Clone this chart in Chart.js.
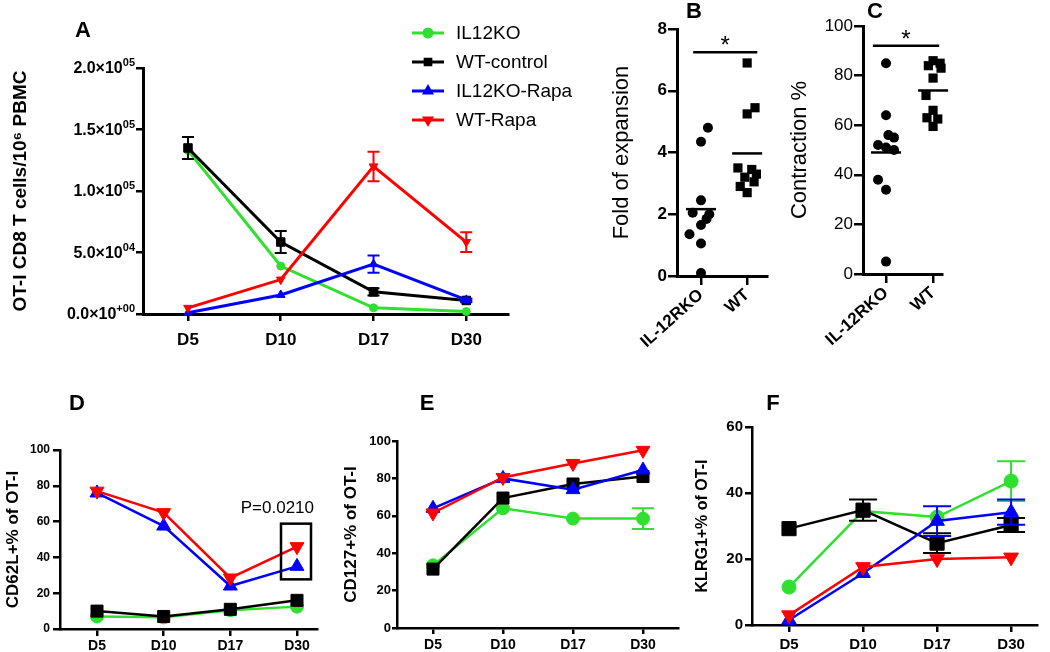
<!DOCTYPE html>
<html>
<head>
<meta charset="utf-8">
<script src="https://cdn.jsdelivr.net/npm/chart.js@4.4.1/dist/chart.umd.min.js"></script>
<style>
  body { margin: 0; background: #fff; }
  #wrap { position: relative; width: 1050px; height: 652px; overflow: hidden; background: #fff; }
  canvas { position: absolute; }
  .lbl { position: absolute; font: bold 22px "Liberation Sans", Arial, sans-serif; transform: translate(-50%, -50%); }
</style>
</head>
<body>
<div id="wrap">
  <canvas id="cA"></canvas>
  <canvas id="cB"></canvas>
  <canvas id="cC"></canvas>
  <canvas id="cD"></canvas>
  <canvas id="cE"></canvas>
  <canvas id="cF"></canvas>
  <div class="lbl" style="left:83px;top:30px">A</div>
  <div class="lbl" style="left:694px;top:11px">B</div>
  <div class="lbl" style="left:875px;top:11px">C</div>
  <div class="lbl" style="left:77px;top:403px">D</div>
  <div class="lbl" style="left:427px;top:403px">E</div>
  <div class="lbl" style="left:773px;top:403px">F</div>
</div>
<script>
var days = ["D5", "D10", "D17", "D30"];
var seriesNames = ["IL12KO", "WT-control", "IL12KO-Rapa", "WT-Rapa"];
var colors = ["#2fe02f", "#000000", "#0000ff", "#ff0000"];

// panel A: OT-I CD8 T cells per 10^6 PBMC
var aIL12KO = [133000, 39000, 5000, 2000];
var aWT = [135000, 58500, 18000, 11000];
var aKORapa = [1000, 15500, 40500, 11500];
var aWTRapa = [5000, 28000, 120000, 58500];
var aErrIL12KO = [0, 0, 0, 0];
var aErrWT = [9000, 9000, 3000, 1500];
var aErrKORapa = [0, 0, 7000, 1000];
var aErrWTRapa = [0, 0, 12000, 8000];
var aTicks = [0, 50000, 100000, 150000, 200000];
var aTickBase = ["0.0×10", "5.0×10", "1.0×10", "1.5×10", "2.0×10"];
var aTickExp = ["+00", "04", "05", "05", "05"];

// panels B, C: individual mice
var groups = ["IL-12RKO", "WT"];
var bKO = [4.8, 4.35, 2.45, 2.05, 2.0, 1.85, 1.65, 1.35, 1.05, 0.1];
var bWT = [6.9, 5.45, 5.25, 3.5, 3.45, 3.3, 3.2, 3.05, 2.9, 2.7];
var cKO = [85, 64, 56, 55, 52, 51, 50, 38, 34, 5];
var cWT = [86, 85, 84, 83, 79, 72, 66, 63, 62.5, 59.5];
var bTicks = [0, 2, 4, 6, 8];
var cTicks = [0, 20, 40, 60, 80, 100];

// horizontal scatter of the dots inside a column
var bJitKO = [0.15, 0, 0, -0.18, 0.18, 0.12, 0, -0.25, 0, 0];
var bJitWT = [0, 0.17, 0, -0.2, 0.1, 0.2, -0.05, 0.15, -0.15, 0];
var cJitKO = [0, 0, 0.05, 0.17, -0.17, 0, 0.17, -0.17, 0, 0];
var cJitWT = [0, 0.15, -0.1, 0.17, 0, -0.15, 0, -0.13, 0.1, 0];

// panel D: CD62L+ %
var dIL12KO = [7, 6.5, 10.5, 12.5];
var dWT = [10, 7, 11, 16];
var dKORapa = [76, 57.5, 24, 35];
var dWTRapa = [77, 65, 28.5, 46];

// panel E: CD127+ %
var eIL12KO = [33.5, 64, 58.5, 58.5];
var eWT = [31.5, 69.5, 77, 81];
var eKORapa = [64, 80, 74, 84.5];
var eWTRapa = [61.5, 80.5, 88, 95];
var eErrIL12KO = [0, 0, 0, 5.5];

// panel F: KLRG1+ %
var fIL12KO = [11.5, 34.5, 32.7, 43.6];
var fWT = [29.2, 34.8, 24.8, 30.3];
var fKORapa = [1.5, 15.7, 31.5, 34.2];
var fWTRapa = [3, 17.6, 20, 20.5];
var fErrIL12KO = [0, 0, 0, 6];
var fErrWT = [0, 3.2, 3, 2.1];
var fErrKORapa = [0, 0, 4.5, 3.8];
var fErrWTRapa = [0, 0, 0, 0];

var FONT = '"Liberation Sans", Arial, "DejaVu Sans", sans-serif';
var marks = [["circle", 0], ["rect", 0], ["triangle", 0], ["triangle", 180]];

function drawMark(ctx, k, r, x, y) {
  ctx.fillStyle = colors[k];
  ctx.strokeStyle = colors[k];
  Chart.helpers.drawPoint(ctx, { pointStyle: marks[k][0], rotation: marks[k][1], radius: r, borderWidth: 1 }, x, y);
}

var errorBars = {
  id: "errorBars",
  afterDatasetDraw: function (chart, args, o) {
    var ds = chart.data.datasets[args.index];
    if (!ds.errors) return;
    var ctx = chart.ctx, ys = chart.scales.y;
    ctx.save();
    ctx.strokeStyle = ds.borderColor;
    ctx.lineWidth = o.width;
    args.meta.data.forEach(function (pt, i) {
      var e = ds.errors[i];
      if (!e) return;
      var v = ds.data[i].y;
      var t = ys.getPixelForValue(v + e), b = ys.getPixelForValue(v - e);
      ctx.beginPath();
      ctx.moveTo(pt.x, t); ctx.lineTo(pt.x, b);
      ctx.moveTo(pt.x - o.cap, t); ctx.lineTo(pt.x + o.cap, t);
      ctx.moveTo(pt.x - o.cap, b); ctx.lineTo(pt.x + o.cap, b);
      ctx.stroke();
    });
    ctx.restore();
  }
};

// y tick labels of panel A written as mantissa x 10 with a raised exponent
var sciTicks = {
  id: "sciTicks",
  afterDraw: function (chart, args, o) {
    if (!o.base) return;
    var ctx = chart.ctx, ys = chart.scales.y, right = chart.chartArea.left - 8;
    ctx.save();
    ctx.fillStyle = "#000";
    ctx.textBaseline = "alphabetic";
    ctx.textAlign = "left";
    o.values.forEach(function (v, i) {
      var y = ys.getPixelForValue(v) + 5;
      ctx.font = "bold 11px " + FONT;
      var we = ctx.measureText(o.exp[i]).width;
      ctx.font = "bold 16px " + FONT;
      var wb = ctx.measureText(o.base[i]).width;
      ctx.fillText(o.base[i], right - we - wb, y);
      ctx.font = "bold 11px " + FONT;
      ctx.fillText(o.exp[i], right - we, y - 7);
    });
    ctx.restore();
  }
};

var lineLegend = {
  id: "lineLegend",
  afterDraw: function (chart, args, o) {
    if (!o.show) return;
    var ctx = chart.ctx;
    ctx.save();
    seriesNames.forEach(function (name, k) {
      var y = o.y0 + k * o.dy;
      ctx.strokeStyle = colors[k];
      ctx.lineWidth = 3;
      ctx.beginPath(); ctx.moveTo(o.x0, y); ctx.lineTo(o.x1, y); ctx.stroke();
      drawMark(ctx, k, 4, (o.x0 + o.x1) / 2, y);
      ctx.fillStyle = "#000";
      ctx.font = "19px " + FONT;
      ctx.textBaseline = "middle";
      ctx.textAlign = "left";
      ctx.fillText(name, o.tx, y + 1);
    });
    ctx.restore();
  }
};

var pBox = {
  id: "pBox",
  afterDatasetsDraw: function (chart, args, o) {
    if (!o.text) return;
    var red = chart.getDatasetMeta(3).data[3], blue = chart.getDatasetMeta(2).data[3];
    var l = red.x - 16, r = red.x + 14, t = red.y - 23, b = blue.y + 13;
    var ctx = chart.ctx;
    ctx.save();
    ctx.strokeStyle = "#000";
    ctx.lineWidth = 2.5;
    ctx.strokeRect(l, t, r - l, b - t);
    ctx.fillStyle = "#000";
    ctx.font = "17px " + FONT;
    ctx.textAlign = "right";
    ctx.textBaseline = "alphabetic";
    ctx.fillText(o.text, r + 3, t - 11);
    ctx.restore();
  }
};

var dotPlot = {
  id: "dotPlot",
  afterDatasetsDraw: function (chart, args, o) {
    if (!o.sig) return;
    var ctx = chart.ctx, xs = chart.scales.x, ys = chart.scales.y;
    ctx.save();
    ctx.strokeStyle = "#000";
    ctx.lineWidth = 2.5;
    chart.data.datasets.forEach(function (ds, k) {
      var vals = ds.data.map(function (p) { return p.y; });
      var mean = vals.reduce(function (s, v) { return s + v; }, 0) / vals.length;
      var px = xs.getPixelForValue(k + 1), py = ys.getPixelForValue(mean);
      ctx.beginPath(); ctx.moveTo(px - 15, py); ctx.lineTo(px + 15, py); ctx.stroke();
    });
    var yb = ys.getPixelForValue(o.sig[2]);
    var x1 = xs.getPixelForValue(o.sig[0]), x2 = xs.getPixelForValue(o.sig[1]);
    ctx.beginPath(); ctx.moveTo(x1, yb); ctx.lineTo(x2, yb); ctx.stroke();
    ctx.fillStyle = "#000";
    ctx.font = "24px " + FONT;
    ctx.textAlign = "center";
    ctx.textBaseline = "alphabetic";
    ctx.fillText("*", (x1 + x2) / 2, yb + 1);
    ctx.restore();
  }
};

function place(id, box) {
  var cv = document.getElementById(id);
  cv.width = box[2]; cv.height = box[3];
  cv.style.left = box[0] + "px"; cv.style.top = box[1] + "px";
  return cv;
}

function axisStyle(c, isX) {
  return {
    grid: { drawOnChartArea: false, color: "#000", lineWidth: c.tickW, tickLength: isX ? c.xTickLen : c.yTickLen },
    border: { color: "#000", width: c.axisW }
  };
}

function lineChart(c) {
  var cv = place(c.id, c.box), b = c.box, a = c.area;
  var datasets = c.series.map(function (vals, k) {
    return {
      label: seriesNames[k],
      data: vals.map(function (v, i) { return { x: i + 1, y: v }; }),
      errors: c.errors ? c.errors[k] : null,
      borderColor: colors[k],
      backgroundColor: colors[k],
      borderWidth: c.lineW,
      pointStyle: marks[k][0],
      pointRotation: marks[k][1],
      pointRadius: c.radius[k],
      pointBorderWidth: 1,
      order: 4 - k,
      clip: false
    };
  });
  var xs = axisStyle(c, true), ys = axisStyle(c, false);
  return new Chart(cv, {
    type: "line",
    data: { datasets: datasets },
    plugins: [errorBars, lineLegend, pBox, sciTicks],
    options: {
      responsive: false, animation: false, devicePixelRatio: 1,
      layout: { padding: { left: 0, top: a[1] - b[1], right: b[0] + b[2] - a[2], bottom: 0 } },
      plugins: {
        legend: { display: false }, tooltip: { enabled: false },
        errorBars: { cap: c.cap, width: 2 },
        lineLegend: c.legend || {},
        pBox: c.pBox || {},
        sciTicks: c.sci || {}
      },
      scales: {
        x: {
          type: "linear", min: c.xRange[0], max: c.xRange[1],
          afterBuildTicks: function (s) { s.ticks = days.map(function (d, i) { return { value: i + 1 }; }); },
          afterFit: function (s) { s.height = b[1] + b[3] - a[3]; },
          ticks: {
            callback: function (v) { return days[v - 1]; },
            autoSkip: false, maxRotation: 0, color: "#000", padding: c.xPad,
            font: { family: FONT, size: c.xFont, weight: "bold" }
          },
          grid: xs.grid, border: xs.border
        },
        y: {
          min: 0, max: c.yTicks[c.yTicks.length - 1],
          afterBuildTicks: function (s) { s.ticks = c.yTicks.map(function (v) { return { value: v }; }); },
          afterFit: function (s) { s.width = a[0] - b[0]; },
          ticks: {
            display: !c.sci,
            color: "#000", padding: c.yPad,
            font: { family: FONT, size: c.yFont, weight: "bold" }
          },
          title: {
            display: true, text: c.title, color: "#000",
            font: { family: FONT, size: c.titleFont, weight: "bold" },
            padding: { top: c.titlePad, bottom: 0 }
          },
          grid: ys.grid, border: ys.border
        }
      }
    }
  });
}

function dotChart(c) {
  var cv = place(c.id, c.box), b = c.box, a = c.area;
  var styles = [["circle", c.radius[0]], ["rect", c.radius[1]]];
  var datasets = c.series.map(function (vals, k) {
    return {
      label: groups[k],
      data: vals.map(function (v, i) { return { x: k + 1 + c.jitter[k][i], y: v }; }),
      backgroundColor: "#000", borderColor: "#000",
      pointStyle: styles[k][0], pointRadius: styles[k][1], pointBorderWidth: 0,
      clip: false
    };
  });
  var xs = axisStyle(c, true), ys = axisStyle(c, false);
  return new Chart(cv, {
    type: "scatter",
    data: { datasets: datasets },
    plugins: [dotPlot],
    options: {
      responsive: false, animation: false, devicePixelRatio: 1,
      layout: { padding: { left: 0, top: a[1] - b[1], right: b[0] + b[2] - a[2], bottom: 0 } },
      plugins: { legend: { display: false }, tooltip: { enabled: false }, dotPlot: { sig: c.sig } },
      scales: {
        x: {
          type: "linear", min: c.xRange[0], max: c.xRange[1],
          afterBuildTicks: function (s) { s.ticks = groups.map(function (g, i) { return { value: i + 1 }; }); },
          afterFit: function (s) { s.height = b[1] + b[3] - a[3]; },
          ticks: {
            callback: function (v) { return groups[v - 1]; },
            autoSkip: false, minRotation: 42, maxRotation: 42, color: "#000", padding: 0,
            font: { family: FONT, size: 17, weight: "bold" }
          },
          grid: xs.grid, border: xs.border
        },
        y: {
          min: 0, max: c.yTicks[c.yTicks.length - 1],
          afterBuildTicks: function (s) { s.ticks = c.yTicks.map(function (v) { return { value: v }; }); },
          afterFit: function (s) { s.width = a[0] - b[0]; },
          ticks: {
            color: "#000", padding: c.yPad,
            font: { family: FONT, size: c.yFont, weight: c.yWeight }
          },
          title: {
            display: true, text: c.title, color: "#000",
            font: { family: FONT, size: 22 },
            padding: { top: c.titlePad, bottom: 0 }
          },
          grid: ys.grid, border: ys.border
        }
      }
    }
  });
}

lineChart({
  id: "cA", box: [0, 0, 600, 365], area: [143, 68, 508, 314],
  series: [aIL12KO, aWT, aKORapa, aWTRapa],
  errors: [aErrIL12KO, aErrWT, aErrKORapa, aErrWTRapa],
  yTicks: aTicks, sci: { values: aTicks, base: aTickBase, exp: aTickExp },
  xRange: [0.515, 4.45], radius: [4, 6, 5, 5], lineW: 3, cap: 6,
  axisW: 3, tickW: 2.5, xTickLen: 7, yTickLen: 7, xPad: 9, yPad: 1,
  xFont: 17, yFont: 14,
  title: "OT-I CD8 T cells/10⁶ PBMC", titleFont: 19, titlePad: 9,
  legend: { show: true, x0: 412, x1: 444, tx: 456, y0: 33, dy: 29 }
});

dotChart({
  id: "cB", box: [595, 0, 180, 360], area: [677, 29, 767, 276],
  series: [bKO, bWT], jitter: [bJitKO, bJitWT], radius: [5, 6.5],
  yTicks: bTicks, xRange: [0.48, 2.43],
  axisW: 3, tickW: 2.5, xTickLen: 9, yTickLen: 9, yPad: 1,
  yFont: 17, yWeight: "bold",
  title: "Fold of expansion", titlePad: 14,
  sig: [0.83, 2.22, 7.25]
});

dotChart({
  id: "cC", box: [775, 0, 185, 360], area: [863, 26, 942, 274],
  series: [cKO, cWT], jitter: [cJitKO, cJitWT], radius: [5, 6.5],
  yTicks: cTicks, xRange: [0.51, 2.19],
  axisW: 3, tickW: 2.5, xTickLen: 9, yTickLen: 9, yPad: 1,
  yFont: 17, yWeight: "normal",
  title: "Contraction %", titlePad: 12,
  sig: [0.72, 2.13, 92]
});

lineChart({
  id: "cD", box: [0, 380, 340, 272], area: [60, 450, 317, 629],
  series: [dIL12KO, dWT, dKORapa, dWTRapa],
  yTicks: [0, 20, 40, 60, 80, 100],
  xRange: [0.445, 4.3], radius: [6.5, 8.5, 8, 8], lineW: 2.5, cap: 10,
  axisW: 2.5, tickW: 2.5, xTickLen: 7, yTickLen: 7, xPad: 2, yPad: 3,
  xFont: 14, yFont: 12,
  title: "CD62L+% of OT-I", titleFont: 17, titlePad: 3,
  pBox: { text: "P=0.0210" }
});

lineChart({
  id: "cE", box: [340, 380, 350, 272], area: [397, 441, 678, 628],
  series: [eIL12KO, eWT, eKORapa, eWTRapa],
  errors: [eErrIL12KO, null, null, null],
  yTicks: [0, 20, 40, 60, 80, 100],
  xRange: [0.486, 4.5], radius: [6.5, 8.5, 8, 8], lineW: 2.5, cap: 11,
  axisW: 2.5, tickW: 2.5, xTickLen: 6, yTickLen: 5, xPad: 3, yPad: 1,
  xFont: 14, yFont: 13,
  title: "CD127+% of OT-I", titleFont: 17, titlePad: 1
});

lineChart({
  id: "cF", box: [690, 380, 360, 272], area: [752, 427, 1037, 625],
  series: [fIL12KO, fWT, fKORapa, fWTRapa],
  errors: [fErrIL12KO, fErrWT, fErrKORapa, fErrWTRapa],
  yTicks: [0, 20, 40, 60],
  xRange: [0.5, 4.35], radius: [7, 10, 8.5, 8.5], lineW: 2.5, cap: 14,
  axisW: 2.5, tickW: 2.5, xTickLen: 7, yTickLen: 7, xPad: 4, yPad: 2,
  xFont: 15, yFont: 15,
  title: "KLRG1+% of OT-I", titleFont: 16, titlePad: 3
});
</script>
</body>
</html>
